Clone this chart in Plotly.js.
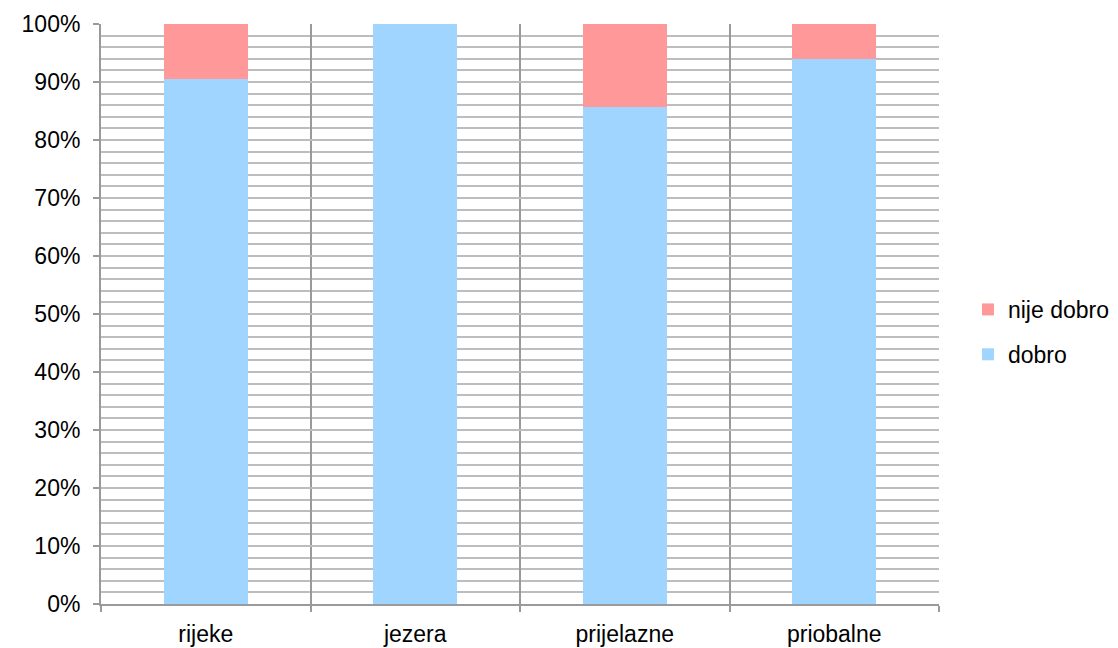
<!DOCTYPE html>
<html>
<head>
<meta charset="utf-8">
<script src="https://cdn.plot.ly/plotly-3.0.1.min.js"></script>
<style>html,body{margin:0;padding:0;background:#fff;}#chart{width:1118px;height:648px;}</style>
</head>
<body>
<div id="chart"></div>
<script>
const categories = ['rijeke', 'jezera', 'prijelazne', 'priobalne'];
const dobro = [0.905, 1.0, 0.857, 0.939];
const nijeDobro = [0.095, 0.0, 0.143, 0.061];
const seriesNames = ['dobro', 'nije dobro'];
const yTickVals = [0, 0.1, 0.2, 0.3, 0.4, 0.5, 0.6, 0.7, 0.8, 0.9, 1.0];

const font = {family: 'Liberation Sans, Arial, sans-serif', size: 23, color: '#000'};

const traces = [
  {type: 'bar', name: seriesNames[0], x: categories, y: dobro, marker: {color: '#A0D5FF'}, width: 0.4, legendgroup: 'a', legendrank: 2, hoverinfo: 'y'},
  {type: 'bar', name: seriesNames[1], x: categories, y: nijeDobro, marker: {color: '#FF9999'}, width: 0.4, legendgroup: 'b', legendrank: 1, hoverinfo: 'y'}
];

const layout = {
  width: 1118, height: 648,
  margin: {l: 101, r: 179, t: 24, b: 44, autoexpand: false},
  barmode: 'stack',
  paper_bgcolor: '#fff', plot_bgcolor: '#fff',
  font: font,
  showlegend: true,
  legend: {xref: 'container', x: 0.8658, y: 0.469, xanchor: 'left', yanchor: 'middle', traceorder: 'grouped', tracegroupgap: 12, font: font, itemwidth: 30},
  xaxis: {
    type: 'category', range: [-0.5, 3.5], tickson: 'boundaries',
    showgrid: true, gridcolor: '#9a9a9a', gridwidth: 2,
    ticks: 'outside', ticklen: 6, tickcolor: '#9a9a9a', tickwidth: 2,
    showline: true, linecolor: '#9a9a9a', linewidth: 2,
    tickfont: font, ticklabelstandoff: 8, fixedrange: true
  },
  yaxis: {
    range: [0, 1], tickvals: yTickVals, tickformat: '.0%',
    showgrid: true, gridcolor: '#bdbdbd', gridwidth: 2,
    minor: {dtick: 0.02, showgrid: true, gridcolor: '#bdbdbd', gridwidth: 2, ticks: ''},
    ticks: 'outside', ticklen: 6, tickcolor: '#9a9a9a', tickwidth: 2,
    showline: true, linecolor: '#9a9a9a', linewidth: 2,
    zeroline: false, tickfont: font, ticklabelstandoff: 8, fixedrange: true
  }
};

Plotly.newPlot('chart', traces, layout, {displayModeBar: false, staticPlot: true});
</script>
</body>
</html>
